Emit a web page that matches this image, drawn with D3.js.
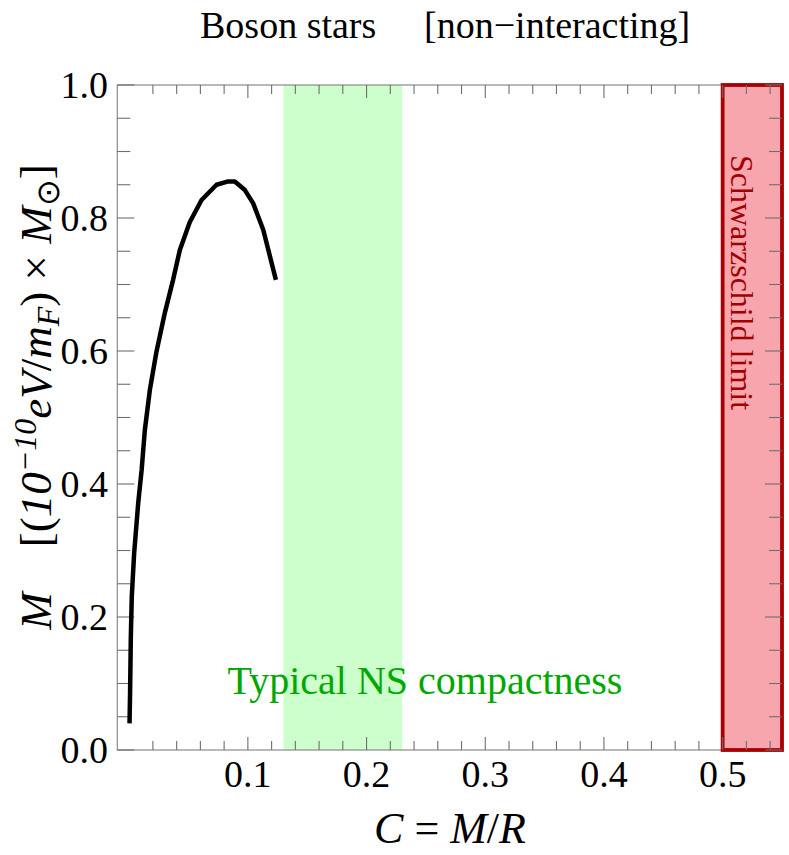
<!DOCTYPE html>
<html><head><meta charset="utf-8">
<script src="https://cdn.jsdelivr.net/npm/d3@7"></script>
<style>body{margin:0;background:#fff}svg{display:block}text{font-family:"Liberation Serif","Times New Roman",serif}</style>
</head><body>
<script>
const compactness = [0.0003,0.0008,0.0014,0.0022,0.0042,0.0076,0.0105,0.0132,0.0174,0.023,0.030,0.037,0.0427,0.0511,0.061,0.0736,0.0834,0.089,0.0975,0.1045,0.113,0.1236];
const mass =        [0.040,0.090,0.170,0.231,0.296,0.371,0.421,0.481,0.541,0.599,0.657,0.707,0.752,0.794,0.827,0.850,0.855,0.855,0.842,0.822,0.782,0.707];
const xMajorTicks = [0.1,0.2,0.3,0.4,0.5];
const xTickLabels = ["0.1","0.2","0.3","0.4","0.5"];
const yMajorTicks = [0,0.2,0.4,0.6,0.8,1.0];
const yTickLabels = ["0.0","0.2","0.4","0.6","0.8","1.0"];
const nsBand = [0.13,0.23];
const schwarzBand = [0.5,0.55];
const xDomain = [-0.01,0.55];
const yDomain = [0,1];

const W=789,H=855;
const L=117.3,R=782,T=85,B=750;
const svg=d3.select("body").append("svg").attr("width",W).attr("height",H);
const x=d3.scaleLinear().domain(xDomain).range([L,R]);
const y=d3.scaleLinear().domain(yDomain).range([B,T]);

// NS band
svg.append("rect").attr("x",x(nsBand[0])).attr("y",T).attr("width",x(nsBand[1])-x(nsBand[0])).attr("height",B-T).attr("fill","#ccffcc");

// Frame
svg.append("rect").attr("x",L).attr("y",T).attr("width",R-L).attr("height",B-T).attr("fill","none").attr("stroke","#8a8a8a").attr("stroke-width",1.2);

// Schwarzschild band
svg.append("rect").attr("x",x(schwarzBand[0])).attr("y",T).attr("width",x(schwarzBand[1])-x(schwarzBand[0])).attr("height",B-T)
  .attr("fill","#f7a6ae").attr("stroke","#a80000").attr("stroke-width",3.8);

// ticks
const xMinor=d3.range(1,28).map(i=>+(i*0.02).toFixed(2)).filter(v=>!xMajorTicks.some(m=>Math.abs(m-v)<1e-9));
const yMinor=d3.range(1,20).map(i=>+(i*0.05).toFixed(2)).filter(v=>!yMajorTicks.some(m=>Math.abs(m-v)<1e-9));
const tg=svg.append("g").attr("stroke","#6e6e6e").attr("stroke-width",1.1);
function xt(v,len){tg.append("line").attr("x1",x(v)).attr("x2",x(v)).attr("y1",B).attr("y2",B-len);
  tg.append("line").attr("x1",x(v)).attr("x2",x(v)).attr("y1",T).attr("y2",T+len);}
function yt(v,len){tg.append("line").attr("y1",y(v)).attr("y2",y(v)).attr("x1",L).attr("x2",L+len);
  tg.append("line").attr("y1",y(v)).attr("y2",y(v)).attr("x1",R).attr("x2",R-len);}
xMajorTicks.forEach(v=>xt(v,13)); xMinor.forEach(v=>xt(v,9));
yMajorTicks.forEach(v=>yt(v,17)); yMinor.forEach(v=>yt(v,13));

// tick labels
svg.selectAll(".xl").data(xMajorTicks).enter().append("text").attr("x",d=>x(d)).attr("y",787)
  .attr("text-anchor","middle").attr("font-size",38).text((d,i)=>xTickLabels[i]);
svg.selectAll(".yl").data(yMajorTicks).enter().append("text").attr("x",108).attr("y",d=>y(d)+13)
  .attr("text-anchor","end").attr("font-size",38).text((d,i)=>yTickLabels[i]);

// curve
const pts=compactness.map((c,i)=>[c,mass[i]]);
svg.append("path").attr("d",d3.line().x(d=>x(d[0])).y(d=>y(d[1]))(pts)).attr("fill","none")
  .attr("stroke","#000").attr("stroke-width",4.5).attr("stroke-linejoin","round");

// annotations
svg.append("text").attr("x",425).attr("y",694).attr("text-anchor","middle")
  .attr("font-size",40).attr("fill","#00a800").text("Typical NS compactness");
svg.append("text").attr("transform",`translate(731,155) rotate(90)`).attr("font-size",32).attr("fill","#a00000").text("Schwarzschild limit");

// title
svg.append("text").attr("x",200).attr("y",38).attr("font-size",38).text("Boson stars");
svg.append("text").attr("x",424).attr("y",38).attr("font-size",38).text("[non\u2212interacting]");

// x label
const xl=svg.append("text").attr("x",450).attr("y",843).attr("text-anchor","middle").attr("font-size",44);
xl.append("tspan").attr("font-style","italic").text("C");
xl.append("tspan").text(" = ");
xl.append("tspan").attr("font-style","italic").text("M");
xl.append("tspan").text("/");
xl.append("tspan").attr("font-style","italic").text("R");

// y label
const yl=svg.append("text").attr("transform","translate(51,397) rotate(-90)").attr("text-anchor","middle").attr("font-size",45);
yl.append("tspan").attr("font-style","italic").text("M");
yl.append("tspan").text("\u2003[(");
yl.append("tspan").attr("font-style","italic").text("10");
yl.append("tspan").attr("font-style","italic").attr("font-size",32).attr("dy",-15).text("\u221210");
yl.append("tspan").attr("font-style","italic").attr("dy",15).text("eV");
yl.append("tspan").text("/");
yl.append("tspan").attr("font-style","italic").text("m");
yl.append("tspan").attr("font-style","italic").attr("font-size",32).attr("dy",8).text("F");
yl.append("tspan").attr("dy",-8).text(") \u00d7 ");
yl.append("tspan").attr("font-style","italic").text("M");
yl.append("tspan").attr("font-size",32).attr("dy",8).text("\u2299");
yl.append("tspan").attr("dy",-8).text("]");
</script>
</body></html>
